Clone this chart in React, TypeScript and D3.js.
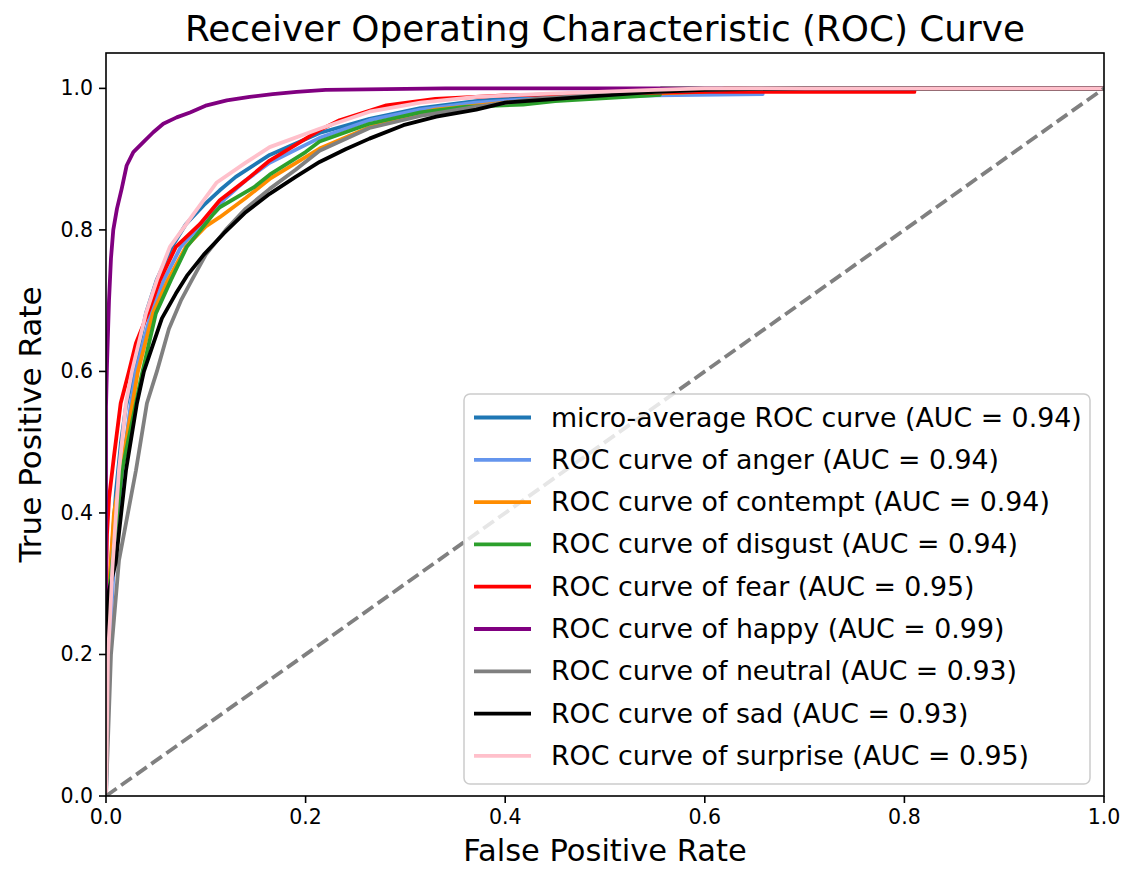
import React from "react";
import * as d3 from "d3";

type Pt = [number, number];

const title = "Receiver Operating Characteristic (ROC) Curve";
const xLabel = "False Positive Rate";
const yLabel = "True Positive Rate";
const xTicks = [0, 0.2, 0.4, 0.6, 0.8, 1.0];
const yTicks = [0, 0.2, 0.4, 0.6, 0.8, 1.0];

const microAvg: Pt[] = [
  [0, 0], [0.001, 0.12], [0.002, 0.2], [0.005, 0.33], [0.01, 0.43], [0.015, 0.5], [0.02, 0.55],
  [0.028, 0.6], [0.04, 0.682], [0.051, 0.73], [0.066, 0.776], [0.08, 0.808], [0.098, 0.835],
  [0.114, 0.856], [0.13, 0.875], [0.164, 0.906], [0.214, 0.937], [0.264, 0.957], [0.315, 0.972],
  [0.37, 0.982], [0.43, 0.989], [0.5, 0.994], [0.6, 0.997], [0.7, 0.999], [0.8, 1.0], [1, 1],
];
const anger: Pt[] = [
  [0, 0], [0.001, 0.09], [0.003, 0.2], [0.008, 0.33], [0.016, 0.46], [0.025, 0.555], [0.03, 0.6],
  [0.045, 0.682], [0.058, 0.729], [0.075, 0.776], [0.1, 0.815], [0.12, 0.845], [0.14, 0.87],
  [0.164, 0.895], [0.214, 0.93], [0.264, 0.955], [0.315, 0.97], [0.37, 0.98], [0.45, 0.987],
  [0.55, 0.99], [0.658, 0.992], [0.658, 1.0], [1, 1],
];
const contempt: Pt[] = [
  [0, 0], [0.001, 0.25], [0.008, 0.4], [0.02, 0.5], [0.032, 0.6], [0.047, 0.682], [0.062, 0.729],
  [0.08, 0.776], [0.1, 0.805], [0.114, 0.818], [0.14, 0.845], [0.164, 0.872], [0.214, 0.915],
  [0.264, 0.945], [0.297, 0.959], [0.33, 0.97], [0.4, 0.98], [0.5, 0.99], [0.6, 0.995],
  [0.62, 1.0], [1, 1],
];
const disgust: Pt[] = [
  [0, 0], [0.001, 0.2], [0.004, 0.3], [0.016, 0.46], [0.03, 0.555], [0.035, 0.59], [0.05, 0.682],
  [0.065, 0.729], [0.081, 0.776], [0.108, 0.823], [0.114, 0.832], [0.148, 0.86], [0.164, 0.878],
  [0.2, 0.91], [0.214, 0.925], [0.264, 0.95], [0.315, 0.966], [0.36, 0.974], [0.418, 0.977],
  [0.45, 0.982], [0.535, 0.989], [0.555, 0.991], [0.556, 1.0], [1, 1],
];
const fear: Pt[] = [
  [0, 0], [0, 0.3], [0.001, 0.37], [0.003, 0.42], [0.008, 0.48], [0.0147, 0.555], [0.023, 0.6],
  [0.03, 0.64], [0.042, 0.682], [0.054, 0.729], [0.07, 0.776], [0.094, 0.808], [0.114, 0.842],
  [0.14, 0.87], [0.164, 0.898], [0.19, 0.92], [0.214, 0.941], [0.234, 0.955], [0.281, 0.976],
  [0.33, 0.985], [0.4, 0.99], [0.5, 0.993], [0.6, 0.995], [0.81, 0.995], [0.81, 1.0], [1, 1],
];
const happy: Pt[] = [
  [0, 0], [0, 0.55], [0.001, 0.61], [0.003, 0.7], [0.005, 0.76], [0.0073, 0.8], [0.011, 0.83],
  [0.0157, 0.858], [0.0207, 0.891], [0.0274, 0.91], [0.0374, 0.924], [0.0474, 0.938],
  [0.0574, 0.95], [0.0708, 0.959], [0.0842, 0.966], [0.1009, 0.976], [0.121, 0.983],
  [0.144, 0.988], [0.167, 0.992], [0.191, 0.995], [0.22, 0.998], [0.34, 1.0], [1, 1],
];
const neutral: Pt[] = [
  [0, 0], [0.005, 0.2], [0.013, 0.333], [0.03, 0.46], [0.041, 0.555], [0.051, 0.6],
  [0.063, 0.66], [0.075, 0.7], [0.086, 0.729], [0.1, 0.765], [0.12, 0.8], [0.14, 0.83],
  [0.164, 0.858], [0.19, 0.885], [0.214, 0.912], [0.264, 0.944], [0.315, 0.961], [0.37, 0.974],
  [0.43, 0.985], [0.5, 0.992], [0.6, 0.998], [0.65, 1.0], [1, 1],
];
const sad: Pt[] = [
  [0, 0], [0, 0.24], [0.003, 0.29], [0.0097, 0.33], [0.02, 0.46], [0.031, 0.555], [0.038, 0.6],
  [0.056, 0.675], [0.07, 0.71], [0.081, 0.735], [0.098, 0.765], [0.118, 0.795], [0.14, 0.825],
  [0.164, 0.851], [0.19, 0.875], [0.214, 0.896], [0.24, 0.914], [0.264, 0.929], [0.298, 0.948],
  [0.331, 0.96], [0.371, 0.97], [0.4, 0.98], [0.5, 0.99], [0.55, 0.995], [0.6, 0.998],
  [0.7, 1.0], [1, 1],
];
const surprise: Pt[] = [
  [0, 0], [0.001, 0.1], [0.002, 0.2], [0.004, 0.25], [0.0063, 0.32], [0.013, 0.46], [0.02, 0.555],
  [0.026, 0.6], [0.04, 0.682], [0.051, 0.729], [0.064, 0.776], [0.088, 0.823], [0.111, 0.867],
  [0.14, 0.895], [0.164, 0.917], [0.214, 0.943], [0.264, 0.967], [0.315, 0.98], [0.371, 0.988],
  [0.45, 0.993], [0.55, 0.998], [0.6, 1.0], [1, 1],
];

const seriesNames = ["micro-average ROC curve", "ROC curve of anger", "ROC curve of contempt",
  "ROC curve of disgust", "ROC curve of fear", "ROC curve of happy", "ROC curve of neutral",
  "ROC curve of sad", "ROC curve of surprise"];
const seriesAUC = ["0.94", "0.94", "0.94", "0.94", "0.95", "0.99", "0.93", "0.93", "0.95"];
const seriesData = [microAvg, anger, contempt, disgust, fear, happy, neutral, sad, surprise];
const seriesColors = ["#1f77b4", "#6495ed", "#ff8c00", "#2ca02c", "#ff0000", "#800080",
  "#808080", "#000000", "#ffc0cb"];

const W = 1128, H = 869;
const L = 106, R = 1104, T = 53, B = 796;
const FONT = "DejaVu Sans, sans-serif";

export default function App() {
  const x = d3.scaleLinear().domain([0, 1]).range([L, R]);
  const y = d3.scaleLinear().domain([0, 1.05]).range([B, T]);
  const line = d3.line<Pt>().x(d => x(d[0])).y(d => y(d[1]));
  const lw = 3.8;
  const legX = 464, legY = 394, legW = 626, legH = 390;
  const rowY0 = 417.5, rowStep = 42.3;
  return (
    <svg width={W} height={H} style={{ position: "fixed", left: 0, top: 0, background: "#fff" }}
      fontFamily={FONT}>
      <rect x={0} y={0} width={W} height={H} fill="#fff" />
      <defs>
        <clipPath id="plotclip"><rect x={L} y={T} width={R - L} height={B - T} /></clipPath>
      </defs>
      <g clipPath="url(#plotclip)">
        {seriesData.map((d, i) => (
          <path key={i} d={line(d) || ""} fill="none" stroke={seriesColors[i]} strokeWidth={lw}
            strokeLinejoin="round" />
        ))}
        <path d={line([[0, 0], [1, 1]]) || ""} fill="none" stroke="#808080" strokeWidth={lw}
          strokeDasharray="13,5.5" />
      </g>
      <rect x={L} y={T} width={R - L} height={B - T} fill="none" stroke="#000" strokeWidth={1.6} />
      {xTicks.map(t => (
        <g key={"x" + t}>
          <line x1={x(t)} x2={x(t)} y1={B} y2={B + 7} stroke="#000" strokeWidth={1.6} />
          <text x={x(t)} y={B + 28} fontSize={20.5} textAnchor="middle" fill="#000">{t.toFixed(1)}</text>
        </g>
      ))}
      {yTicks.map(t => (
        <g key={"y" + t}>
          <line x1={L - 7} x2={L} y1={y(t)} y2={y(t)} stroke="#000" strokeWidth={1.6} />
          <text x={L - 13} y={y(t) + 7} fontSize={20.5} textAnchor="end" fill="#000">{t.toFixed(1)}</text>
        </g>
      ))}
      <text x={(L + R) / 2} y={861} fontSize={30.5} textAnchor="middle" fill="#000">{xLabel}</text>
      <text transform={`translate(41,${(T + B) / 2}) rotate(-90)`} fontSize={31} textAnchor="middle"
        fill="#000">{yLabel}</text>
      <text x={(L + R) / 2} y={41} fontSize={35.8} textAnchor="middle" fill="#000">{title}</text>
      <rect x={legX} y={legY} width={legW} height={legH} rx={6} fill="#fff" fillOpacity={0.8}
        stroke="#cccccc" strokeWidth={1.5} />
      {seriesNames.map((n, i) => {
        const cy = rowY0 + i * rowStep;
        return (
          <g key={"l" + i}>
            <line x1={474} x2={531} y1={cy} y2={cy} stroke={seriesColors[i]} strokeWidth={lw} />
            <text x={551} y={cy + 9} fontSize={26.8} fill="#000">{`${n} (AUC = ${seriesAUC[i]})`}</text>
          </g>
        );
      })}
    </svg>
  );
}
